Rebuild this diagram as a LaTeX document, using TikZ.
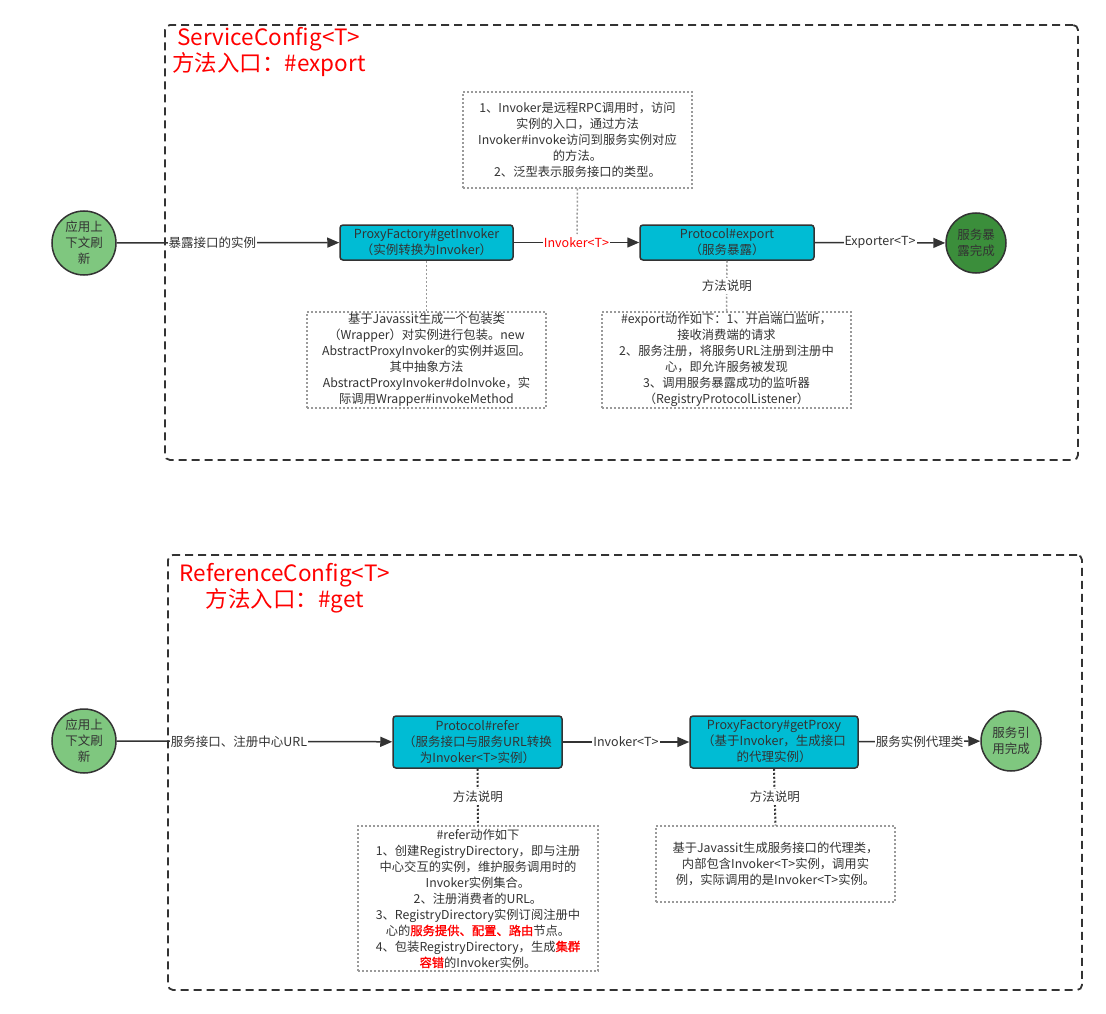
\documentclass[tikz,border=0pt]{standalone}
\usepackage{fontspec}
\setmainfont{Noto Sans CJK SC}
\newfontfamily\boldcjk{Noto Sans CJK SC}[FakeBold=1.2]
\usetikzlibrary{arrows.meta}
\definecolor{boxcyan}{HTML}{00BCD4}
\definecolor{lightgreen}{HTML}{7FC77F}
\definecolor{darkgreen}{HTML}{3B8E3B}
\definecolor{ink}{HTML}{333333}
\definecolor{notegray}{HTML}{9A9A9A}
\definecolor{titlered}{HTML}{FF0000}
\tikzset{
  frame/.style={draw=ink, line width=1.8pt, dash pattern=on 8pt off 5pt, rounded corners=5pt, inner sep=0pt},
  title/.style={text=titlered, font=\fontsize{22.5}{26}\selectfont, align=center, inner sep=0pt},
  stepbox/.style={draw=ink, line width=1.5pt, fill=boxcyan, rounded corners=3pt, text=ink, align=center, inner sep=0pt, font=\fontsize{12.5}{16}\selectfont},
  startnode/.style={circle, draw=ink, line width=1.5pt, fill=lightgreen, minimum size=64pt, inner sep=0pt, text=ink, align=center, font=\fontsize{12.5}{16}\selectfont},
  endnode/.style={circle, draw=ink, line width=1.5pt, minimum size=60pt, inner sep=0pt, text=ink, align=center, font=\fontsize{12.5}{16}\selectfont},
  note/.style={draw=notegray, line width=1.3pt, dash pattern=on 2pt off 2pt, text=ink, align=center, inner sep=0pt, font=\fontsize{12.3}{16}\selectfont},
  conn/.style={draw=ink, line width=1.5pt, -{Triangle[length=12pt,width=10pt]}},
  elabel/.style={fill=white, text=ink, inner sep=1pt, font=\fontsize{12.5}{15}\selectfont},
  grayline/.style={draw=notegray, line width=1.5pt, dash pattern=on 2pt off 2pt},
  darkline/.style={draw=ink, line width=2pt, dash pattern=on 2pt off 2pt},
}
\begin{document}
\begin{tikzpicture}[x=1pt,y=-1pt]
\useasboundingbox[fill=white] (0,0) rectangle (1106,1014);

% ---------- top frame ----------
\node[frame, minimum width=913pt, minimum height=435pt] (f1) at (621.5,242.5) {};
\node[title] (t1) at (269,52) {ServiceConfig<T>\\方法入口：\#export};

\node[startnode] (s1) at (84,243) {应用上\\下文刷\\新};
\node[stepbox, minimum width=173pt, minimum height=35pt] (pf) at (426.5,242.5) {ProxyFactory\#getInvoker\\（实例转换为Invoker）};
\node[stepbox, minimum width=174pt, minimum height=35pt] (pe) at (727,242.5) {Protocol\#export\\（服务暴露）};
\node[endnode, fill=darkgreen] (e1) at (976,243) {服务暴\\露完成};

\node[note, minimum width=229pt, minimum height=96pt] (n1) at (577.5,140) {1、Invoker是远程RPC调用时，访问\\实例的入口，通过方法\\Invoker\#invoke访问到服务实例对应\\的方法。\\2、泛型表示服务接口的类型。};
\node[note, minimum width=239pt, minimum height=96pt] (n2) at (426.5,360) {基于Javassit生成一个包装类\\（Wrapper）对实例进行包装。new\\AbstractProxyInvoker的实例并返回。\\其中抽象方法\\AbstractProxyInvoker\#doInvoke，实\\际调用Wrapper\#invokeMethod};
\node[note, minimum width=249pt, minimum height=96pt] (n3) at (726.5,360) {\#export动作如下：1、开启端口监听，\\接收消费端的请求\\2、服务注册，将服务URL注册到注册中\\心，即允许服务被发现\\3、调用服务暴露成功的监听器\\（RegistryProtocolListener）};

\draw[grayline] (n1.south) -- (577,234);
\draw[grayline] (pf.south) -- (n2.north);
\draw[grayline] (pe.south) -- node[fill=white, text=ink, inner sep=2pt, font=\fontsize{12.5}{15}\selectfont] (m1) {方法说明} (n3.north);

\draw[conn] (s1) -- node[elabel, pos=0.43] (l1) {暴露接口的实例} (pf);
\draw[conn] (pf) -- node[elabel, text=titlered] (l2) {Invoker<T>} (pe);
\draw[conn] (pe) -- node[elabel] (l3) {Exporter<T>} (e1);

% ---------- bottom frame ----------
\node[frame, minimum width=914pt, minimum height=435pt] (f2) at (625,772.5) {};
\node[title] (t2) at (285,588) {ReferenceConfig<T>\\方法入口：\#get};

\node[startnode] (s2) at (84,741) {应用上\\下文刷\\新};
\node[stepbox, minimum width=169pt, minimum height=52pt] (pr) at (477.5,742) {Protocol\#refer\\（服务接口与服务URL转换\\为Invoker<T>实例）};
\node[stepbox, minimum width=168pt, minimum height=52pt] (pp) at (774,742) {ProxyFactory\#getProxy\\（基于Invoker，生成接口\\的代理实例）};
\node[endnode, fill=lightgreen] (e2) at (1011,741) {服务引\\用完成};

\node[note, minimum width=240pt, minimum height=145pt] (n4) at (478,898.5) {\#refer动作如下\\1、创建RegistryDirectory，即与注册\\中心交互的实例，维护服务调用时的\\Invoker实例集合。\\2、注册消费者的URL。\\3、RegistryDirectory实例订阅注册中\\心的{\color{titlered}\boldcjk 服务提供、配置、路由}节点。\\4、包装RegistryDirectory，生成{\color{titlered}\boldcjk 集群}\\{\color{titlered}\boldcjk 容错}的Invoker实例。};
\node[note, minimum width=239pt, minimum height=76pt] (n5) at (775.5,864) {基于Javassit生成服务接口的代理类，\\内部包含Invoker<T>实例，调用实\\例，实际调用的是Invoker<T>实例。};

\draw[darkline] (pr.south) -- node[fill=white, text=ink, inner sep=2pt, font=\fontsize{12.5}{15}\selectfont] (m2) {方法说明} (n4.north);
\draw[darkline] (pp.south) -- node[fill=white, text=ink, inner sep=2pt, font=\fontsize{12.5}{15}\selectfont] (m3) {方法说明} (n5.north);

\draw[conn] (s2) -- node[elabel, pos=0.444] (l4) {服务接口、注册中心URL} (pr);
\draw[conn] (pr) -- node[elabel] (l5) {Invoker<T>} (pp);
\draw[conn] (pp) -- node[elabel] (l6) {服务实例代理类} (e2);
\end{tikzpicture}
\end{document}
